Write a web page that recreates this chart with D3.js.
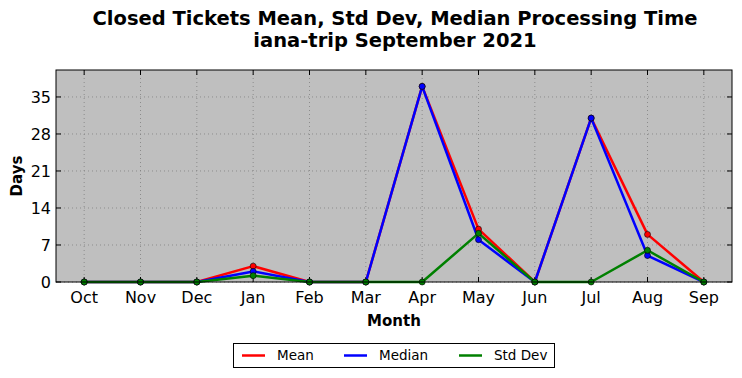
<!DOCTYPE html>
<html><head><meta charset="utf-8">
<script src="https://cdn.jsdelivr.net/npm/d3@7"></script>
<style>body{margin:0;background:#fff}svg{display:block}text{font-family:"DejaVu Sans",sans-serif}</style>
</head><body>
<svg id="c" width="742" height="378"></svg>
<script>
const months = ["Oct","Nov","Dec","Jan","Feb","Mar","Apr","May","Jun","Jul","Aug","Sep"];
const meanVals   = [0,0,0,3,0,0,37,10,0,31,9,0];
const medianVals = [0,0,0,2,0,0,37,8,0,31,5,0];
const stdVals    = [0,0,0,1.2,0,0,0,9.2,0,0,6,0];
const yTicks = [0,7,14,21,28,35];
const seriesNames = ["Mean","Median","Std Dev"];
const seriesColors = ["#ff0000","#0000ff","#008000"];

const svg = d3.select("#c");
const L=56,R=732,T=70,B=282;
const x = d3.scaleLinear().domain([-0.5, months.length-0.5]).range([L,R]);
const y = d3.scaleLinear().domain([0,40.1]).range([B,T]);

svg.append("rect").attr("x",L).attr("y",T).attr("width",R-L).attr("height",B-T).attr("fill","#bfbfbf");

// grid
const g = svg.append("g");
months.forEach((m,i)=>{
  g.append("line").attr("x1",x(i)).attr("x2",x(i)).attr("y1",T).attr("y2",B)
   .attr("stroke","#7f7f7f").attr("stroke-width",0.8).attr("stroke-dasharray","1,3");
});
yTicks.forEach(v=>{
  g.append("line").attr("x1",L).attr("x2",R).attr("y1",y(v)).attr("y2",y(v))
   .attr("stroke","#7f7f7f").attr("stroke-width",0.8).attr("stroke-dasharray","1,3");
});

// axes with inward ticks
const ax = svg.append("g");
const tl = 5;
months.forEach((m,i)=>{
  ax.append("line").attr("x1",x(i)).attr("x2",x(i)).attr("y1",B).attr("y2",B-tl).attr("stroke","#000");
  ax.append("line").attr("x1",x(i)).attr("x2",x(i)).attr("y1",T).attr("y2",T+tl).attr("stroke","#000");
  ax.append("text").attr("x",x(i)).attr("y",303).attr("text-anchor","middle").attr("font-size",16).text(m);
});
yTicks.forEach(v=>{
  ax.append("line").attr("x1",L).attr("x2",L+tl).attr("y1",y(v)).attr("y2",y(v)).attr("stroke","#000");
  ax.append("line").attr("x1",R).attr("x2",R-tl).attr("y1",y(v)).attr("y2",y(v)).attr("stroke","#000");
  ax.append("text").attr("x",L-5).attr("y",y(v)).attr("dy","0.35em").attr("text-anchor","end").attr("font-size",16).text(v);
});

// series
const data = [meanVals, medianVals, stdVals];
const line = d3.line().x((d,i)=>x(i)).y(d=>y(d));
data.forEach((vals,k)=>{
  svg.append("path").datum(vals).attr("d",line).attr("fill","none")
    .attr("stroke",seriesColors[k]).attr("stroke-width",2.5).attr("stroke-linejoin","round");
});
data.forEach((vals,k)=>{
  svg.append("g").selectAll("circle").data(vals).join("circle")
    .attr("cx",(d,i)=>x(i)).attr("cy",d=>y(d)).attr("r",3)
    .attr("fill",seriesColors[k]).attr("stroke","#000").attr("stroke-width",0.6);
});

svg.append("rect").attr("x",L).attr("y",T).attr("width",R-L).attr("height",B-T)
  .attr("fill","none").attr("stroke","#000").attr("stroke-width",1);

// titles
svg.append("text").attr("x",395).attr("y",25).attr("text-anchor","middle").attr("font-size",19.5).attr("font-weight","bold")
  .text("Closed Tickets Mean, Std Dev, Median Processing Time");
svg.append("text").attr("x",395).attr("y",47).attr("text-anchor","middle").attr("font-size",19.5).attr("font-weight","bold")
  .text("iana-trip September 2021");
svg.append("text").attr("x",394).attr("y",326).attr("text-anchor","middle").attr("font-size",15).attr("font-weight","bold").text("Month");
svg.append("text").attr("transform","translate(21.5,176) rotate(-90)").attr("text-anchor","middle").attr("font-size",15).attr("font-weight","bold").text("Days");

// legend
const lg = svg.append("g");
lg.append("rect").attr("x",233.5).attr("y",343.5).attr("width",321).attr("height",24).attr("fill","#fff").attr("stroke","#000");
const lx = [242,344,459];
seriesNames.forEach((n,k)=>{
  lg.append("line").attr("x1",lx[k]).attr("x2",lx[k]+23).attr("y1",355.5).attr("y2",355.5).attr("stroke",seriesColors[k]).attr("stroke-width",2.5);
  lg.append("text").attr("x",lx[k]+35).attr("y",355.5).attr("dy","0.35em").attr("font-size",13.5).text(n);
});
</script>
</body></html>
